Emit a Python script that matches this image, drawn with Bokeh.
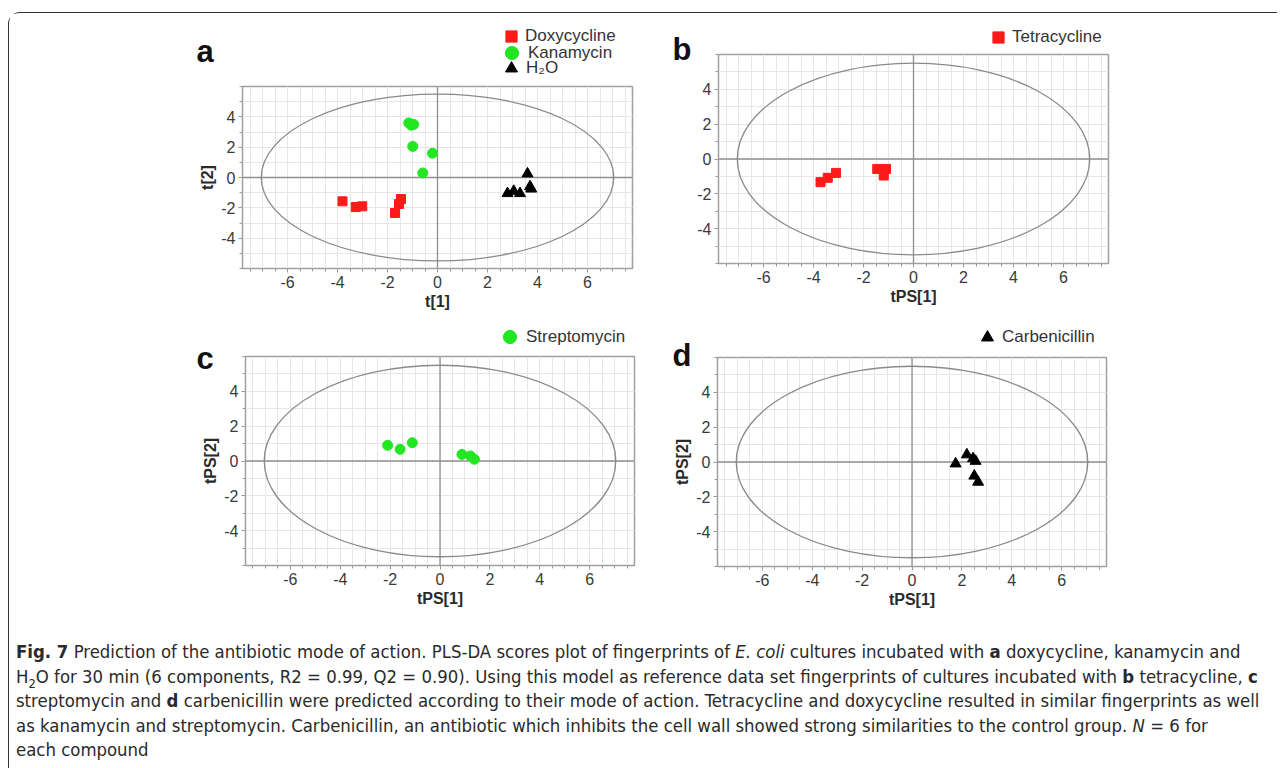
import numpy as np
from bokeh.plotting import figure
from bokeh.models import (Range1d, FixedTicker, Span, Label, Legend, LegendItem, Div,
                          GridBox, PrintfTickFormatter)
from bokeh.embed import file_html
from bokeh.resources import INLINE

# ---------------- data ----------------
doxy_x = [-3.80, -3.27, -3.01, -1.70, -1.54, -1.46]
doxy_y = [-1.57, -1.95, -1.90, -2.34, -1.75, -1.42]
kana_x = [-1.15, -1.05, -0.95, -0.99, -0.20, -0.59]
kana_y = [3.60, 3.45, 3.50, 2.05, 1.60, 0.30]
h2o_x = [2.80, 3.05, 3.30, 3.60, 3.70, 3.75]
h2o_y = [-1.05, -0.90, -1.05, 0.25, -0.60, -0.75]

tetra_x = [-3.72, -3.43, -3.10, -1.45, -1.10, -1.19]
tetra_y = [-1.33, -1.08, -0.80, -0.57, -0.57, -0.95]

strep_x = [-2.10, -1.60, -1.11, 0.88, 1.22, 1.38]
strep_y = [0.90, 0.67, 1.05, 0.38, 0.29, 0.10]

carb_x = [1.75, 2.20, 2.45, 2.55, 2.50, 2.65]
carb_y = [-0.10, 0.42, 0.20, 0.05, -0.80, -1.15]

# Hotelling T2 ellipse (full width / height in score units)
ellipse_w = 14.1
ellipse_h = 11.0

x_major = [-6, -4, -2, 0, 2, 4, 6]
y_major = [-4, -2, 0, 2, 4]
x_minor = list(np.arange(-7.5, 7.51, 0.5))
y_minor = list(np.arange(-6, 6.01, 1.0))

X_RANGE = (-7.8, 7.8)
Y_RANGE = (-6.0, 6.0)

RED = "#ff1a1a"
GREEN = "#22e622"
BLACK = "#000000"

FONT = "Liberation Sans"

# page geometry: content origin (inside the border), absolute page pixels
MARGIN_L, MARGIN_T, BORDER = 8, 12, 2
OX, OY = MARGIN_L + BORDER, MARGIN_T + BORDER
ROW1_H, ROW2_H, COL1_W, COL2_W = 304, 310, 650, 610


def make_panel(box, frame, xlabel, ylabel, series):
    """box = (x, y, w, h) relative to content origin; frame = (left, top, right, bottom) same system."""
    bx, by, bw, bh = [int(round(v)) for v in box]
    fl, ft, fr, fb = [int(round(v)) for v in frame]
    p = figure(width=bw, height=bh,
               x_range=Range1d(*X_RANGE), y_range=Range1d(*Y_RANGE),
               output_backend="svg", toolbar_location=None, frame_align=False,
               min_border_left=fl - bx, min_border_right=bx + bw - fr,
               min_border_top=ft - by, min_border_bottom=by + bh - fb)
    p.background_fill_color = "white"
    p.border_fill_color = "white"
    p.outline_line_color = "#a0a0a0"
    p.outline_line_width = 1.5

    xt = FixedTicker(ticks=x_major, minor_ticks=x_minor)
    yt = FixedTicker(ticks=y_major, minor_ticks=y_minor)
    p.xaxis.ticker = xt
    p.yaxis.ticker = yt
    p.xgrid.ticker = xt
    p.ygrid.ticker = yt
    for g in (p.xgrid, p.ygrid):
        g.grid_line_color = "#e6e6e6"
        g.minor_grid_line_color = "#e6e6e6"
        g.grid_line_width = 1
        g.minor_grid_line_width = 1

    for ax in (p.xaxis, p.yaxis):
        ax.formatter = PrintfTickFormatter(format="%d")
        ax.axis_line_color = None
        ax.major_tick_in = 0
        ax.minor_tick_in = 0
        ax.major_tick_out = 4
        ax.minor_tick_out = 3
        ax.major_tick_line_color = "#999999"
        ax.minor_tick_line_color = "#999999"
        ax.major_label_text_font = FONT
        ax.major_label_text_font_size = "16px"
        ax.major_label_text_color = "#3a3a3a"
        ax.axis_label_text_font = FONT
        ax.axis_label_text_font_size = "16px"
        ax.axis_label_text_font_style = "bold"
        ax.axis_label_text_color = "#2a2a2a"
        ax.axis_label_standoff = 2
        ax.major_label_standoff = 3
    p.xaxis.axis_label = xlabel
    if ylabel:
        p.yaxis.axis_label = ylabel

    p.add_layout(Span(location=0, dimension="height", line_color="#8f8f8f", line_width=1.3, level="underlay"))
    p.add_layout(Span(location=0, dimension="width", line_color="#8f8f8f", line_width=1.3, level="underlay"))
    p.ellipse(x=[0], y=[0], width=[ellipse_w], height=[ellipse_h],
              fill_color=None, line_color="#8a8a8a", line_width=1.3)

    for (xs, ys, marker, size, color) in series:
        p.scatter(xs, ys, marker=marker, size=size, fill_color=color, line_color=color)
    return p


def A(x, y):
    """absolute page pixel -> content-relative pixel"""
    return x - OX, y - OY


def F(l, t, r, b):
    return A(l, t) + A(r, b)


pA = make_panel((0, 0, COL1_W, ROW1_H), F(243, 87, 633, 269), "t[1]", "t[2]",
                [(doxy_x, doxy_y, "square", 9, RED),
                 (kana_x, kana_y, "circle", 10, GREEN),
                 (h2o_x, h2o_y, "triangle", 11, BLACK)])
pB = make_panel((COL1_W, 0, COL2_W, ROW1_H), F(715, 55, 1105, 264), "tPS[1]", None,
                [(tetra_x, tetra_y, "square", 9, RED)])
pC = make_panel((0, ROW1_H, COL1_W, ROW2_H), F(246, 357, 635, 566), "tPS[1]", "tPS[2]",
                [(strep_x, strep_y, "circle", 10, GREEN)])
pD = make_panel((COL1_W, ROW1_H, COL2_W, ROW2_H), F(714, 358, 1103, 567), "tPS[1]", "tPS[2]",
                [(carb_x, carb_y, "triangle", 11, BLACK)])

# ---------- transparent overlay carrying panel letters and legends ----------
OV_W, OV_H = COL1_W + COL2_W, ROW1_H + ROW2_H
ov = figure(width=OV_W, height=OV_H, x_range=Range1d(OX, OX + OV_W), y_range=Range1d(OY + OV_H, OY),
            x_axis_type=None, y_axis_type=None, output_backend="svg", toolbar_location=None,
            frame_align=False,
            min_border=0, min_border_left=0, min_border_right=0, min_border_top=0, min_border_bottom=0)
ov.background_fill_color = None
ov.border_fill_color = None
ov.outline_line_color = None
ov.grid.visible = False

for letter, (lx, ly) in [("a", (197, 52)), ("b", (673, 50)), ("c", (197, 359)), ("d", (673, 356))]:
    ov.add_layout(Label(x=lx, y=ly, text=letter, text_font=FONT, text_font_style="bold",
                        text_font_size="31px", text_color="#111111",
                        text_align="left", text_baseline="alphabetic"))

# swatch box size per marker (legend swatch = 0.4 * box)
GLYPH_BOX = {"square": 28, "circle": 33, "triangle": 30}
TEXT_GAP = 13  # from swatch centre to label start
# (glyph centre in page pixels, label, series x, series y, marker, colour)
legend_entries = [
    ((512, 37), "Doxycycline", doxy_x, doxy_y, "square", RED),
    ((512, 53), "Kanamycin", kana_x, kana_y, "circle", GREEN),
    ((512, 69), "H\u2082O", h2o_x, h2o_y, "triangle", BLACK),
    ((999, 38), "Tetracycline", tetra_x, tetra_y, "square", RED),
    ((511, 338), "Streptomycin", strep_x, strep_y, "circle", GREEN),
    ((988, 338), "Carbenicillin", carb_x, carb_y, "triangle", BLACK),
]
for (gx, gy), label, xs, ys, marker, color in legend_entries:
    gh = GLYPH_BOX[marker]
    # hidden carrier renderer: only its style is shown, as the legend swatch
    r = ov.scatter(x=xs, y=ys, marker=marker, size=10, fill_color=color, line_color=color, visible=False)
    leg = Legend(items=[LegendItem(label=label, renderers=[r])],
                 location=(int(round(gx - gh / 2 - OX)), int(round(OY + OV_H - (gy + gh / 2)))),
                 glyph_width=gh, glyph_height=gh, spacing=0,
                 label_standoff=int(round(TEXT_GAP - gh / 2)), padding=0, margin=0,
                 border_line_color=None, background_fill_alpha=0,
                 inactive_fill_alpha=0,
                 label_text_font=FONT, label_text_font_size="17px",
                 label_text_color="#333333", label_height=20,
                 label_text_baseline="middle")
    ov.add_layout(leg)

caption_lines = [
    "<b>Fig. 7</b> Prediction of the antibiotic mode of action. PLS-DA scores plot of fingerprints of <i>E. coli</i> cultures incubated with <b>a</b> doxycycline, kanamycin and",
    "H<sub style='font-size:0.7em;line-height:0'>2</sub>O for 30 min (6 components, R2 = 0.99, Q2 = 0.90). Using this model as reference data set fingerprints of cultures incubated with <b>b</b> tetracycline, <b>c</b>",
    "streptomycin and <b>d</b> carbenicillin were predicted according to their mode of action. Tetracycline and doxycycline resulted in similar fingerprints as well",
    "as kanamycin and streptomycin. Carbenicillin, an antibiotic which inhibits the cell wall showed strong similarities to the control group. <i>N</i> = 6 for",
    "each compound",
]
caption = Div(text="<br>".join(caption_lines), width=OV_W - 2, height=137,
              styles={"font-family": "'Liberation Sans Narrow', 'DejaVu Sans Condensed', 'Liberation Sans', sans-serif",
                      "font-size": "18.4px", "line-height": "24.5px", "color": "#2a2a2a",
                      "white-space": "nowrap", "padding-left": "2px", "padding-top": "8px"})

layout = GridBox(children=[(pA, 0, 0), (pB, 0, 1), (pC, 1, 0), (pD, 1, 1),
                           (ov, 0, 0, 2, 2), (caption, 2, 0, 1, 2)],
                 styles={"border-left": "1.5px solid #333333", "border-top": "1.5px solid #333333",
                         "border-top-left-radius": "12px",
                         "margin-left": "%dpx" % MARGIN_L, "margin-top": "%dpx" % MARGIN_T})

open("out.html", "w").write(file_html(layout, INLINE))
